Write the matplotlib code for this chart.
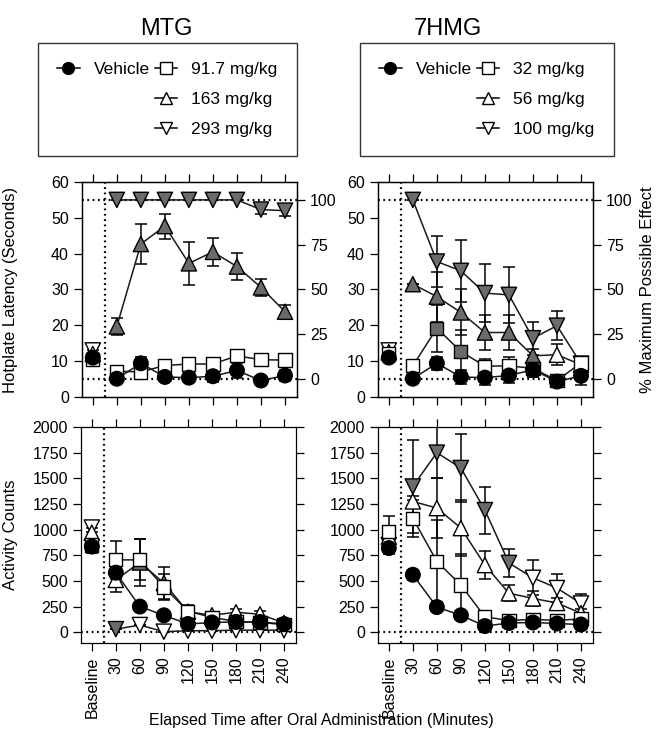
import numpy as np
import matplotlib
matplotlib.use('Agg')
from matplotlib import pyplot as plt
from matplotlib.lines import Line2D

plt.rcParams['font.family'] = ['Liberation Sans', 'DejaVu Sans']
plt.rcParams['axes.linewidth'] = 0.9

# DATA ========================================================================
time_labels = ['Baseline', '30', '60', '90', '120', '150', '180', '210', '240']

# MTG, hotplate latency (s)
mtg_hp_vehicle = [11.0, 5.1, 9.4, 5.6, 5.4, 5.8, 7.4, 4.6, 6.0]
mtg_hp_vehicle_err = [1.0, 0.6, 1.8, 1.2, 1.2, 1.5, 2.0, 1.2, 1.5]
mtg_hp_d1 = [10.5, 7.2, 7.0, 8.8, 9.2, 9.2, 11.5, 10.4, 10.3]
mtg_hp_d1_err = [1.0, 0.8, 1.0, 1.0, 1.0, 1.0, 1.6, 1.5, 1.5]
mtg_hp_d2 = [12.0, 19.7, 42.7, 47.7, 37.3, 40.5, 36.4, 30.6, 23.8]
mtg_hp_d2_err = [1.0, 2.3, 5.5, 3.5, 6.0, 4.0, 3.8, 2.4, 2.0]
mtg_hp_d3 = [13.0, 55.0, 55.0, 55.0, 55.0, 55.0, 55.0, 52.3, 52.0]
mtg_hp_d3_err = [1.0, 0, 0, 0, 0, 0, 0, 1.3, 1.4]
# gray filled = significant vs vehicle
mtg_hp_d1_sig = [0, 0, 0, 0, 0, 0, 0, 0, 0]
mtg_hp_d2_sig = [0, 1, 1, 1, 1, 1, 1, 1, 1]
mtg_hp_d3_sig = [0, 1, 1, 1, 1, 1, 1, 1, 1]

# 7HMG, hotplate latency (s)
hmg_hp_vehicle = [11.0, 5.1, 9.4, 5.6, 5.4, 6.0, 7.6, 4.3, 5.9]
hmg_hp_vehicle_err = [1.0, 0.5, 1.8, 2.0, 2.0, 2.0, 2.0, 1.0, 2.5]
hmg_hp_d1 = [12.0, 8.7, 19.2, 12.7, 8.6, 8.7, 8.0, 4.6, 9.5]
hmg_hp_d1_err = [1.0, 1.0, 6.6, 6.0, 2.0, 2.5, 2.5, 1.0, 1.0]
hmg_hp_d2 = [12.5, 31.5, 28.0, 23.6, 18.0, 18.0, 11.5, 11.8, 9.0]
hmg_hp_d2_err = [1.0, 0, 7.0, 6.4, 4.8, 4.8, 2.0, 3.0, 1.0]
hmg_hp_d3 = [13.0, 55.0, 37.8, 35.2, 29.0, 28.5, 16.4, 19.9, 9.3]
hmg_hp_d3_err = [1.0, 0, 7.0, 8.6, 8.1, 7.9, 4.6, 4.0, 1.0]
hmg_hp_d1_sig = [0, 0, 1, 1, 0, 0, 1, 1, 0]
hmg_hp_d2_sig = [0, 1, 1, 1, 1, 1, 1, 0, 0]
hmg_hp_d3_sig = [0, 1, 1, 1, 1, 1, 1, 1, 0]

# MTG, activity counts
mtg_ac_vehicle = [835, 580, 250, 165, 80, 95, 100, 100, 80]
mtg_ac_vehicle_err = [60, 60, 20, 15, 15, 10, 10, 10, 10]
mtg_ac_d1 = [850, 705, 705, 440, 205, 145, 105, 95, 75]
mtg_ac_d1_err = [60, 180, 200, 130, 60, 30, 20, 20, 20]
mtg_ac_d2 = [970, 510, 680, 480, 200, 165, 195, 175, 90]
mtg_ac_d2_err = [50, 115, 230, 160, 50, 30, 30, 30, 20]
mtg_ac_d3 = [1020, 30, 70, 5, 15, 15, 20, 20, 20]
mtg_ac_d3_err = [40, 0, 0, 0, 0, 0, 0, 0, 0]
mtg_ac_d1_sig = [0, 0, 0, 0, 0, 0, 0, 0, 0]
mtg_ac_d2_sig = [0, 0, 1, 1, 0, 0, 0, 0, 0]
mtg_ac_d3_sig = [0, 1, 0, 0, 0, 0, 0, 0, 0]

# 7HMG, activity counts
hmg_ac_vehicle = [820, 560, 245, 165, 60, 90, 95, 85, 75]
hmg_ac_vehicle_err = [60, 50, 30, 20, 15, 10, 10, 10, 10]
hmg_ac_d1 = [980, 1110, 690, 460, 150, 115, 125, 115, 130]
hmg_ac_d1_err = [150, 180, 400, 300, 30, 20, 20, 20, 20]
hmg_ac_d2 = [930, 1275, 1210, 1015, 655, 380, 330, 285, 185]
hmg_ac_d2_err = [60, 50, 290, 270, 135, 80, 70, 50, 40]
hmg_ac_d3 = [850, 1420, 1750, 1600, 1190, 675, 530, 430, 280]
hmg_ac_d3_err = [50, 455, 250, 330, 230, 140, 170, 140, 90]
hmg_ac_d1_sig = [0, 0, 0, 0, 0, 0, 0, 0, 0]
hmg_ac_d2_sig = [0, 0, 0, 0, 0, 0, 0, 0, 0]
hmg_ac_d3_sig = [0, 1, 1, 1, 1, 1, 0, 0, 0]

mtg_doses = ['91.7 mg/kg', '163 mg/kg', '293 mg/kg']
hmg_doses = ['32 mg/kg', '56 mg/kg', '100 mg/kg']

# =============================================================================
GRAY = '#6b6b6b'
LW = 1.1
DOT = (0, (0.8, 1.6))


def draw_series(ax, y, err, marker, ms, sig=None, vehicle=False):
    x = np.arange(len(y))
    ax.errorbar(x, y, yerr=err, fmt='none', ecolor='k', elinewidth=LW,
                capsize=4.5, capthick=LW, zorder=2)
    ax.plot(x[1:], y[1:], '-', color='#1a1a1a', lw=LW, zorder=2)
    if vehicle:
        faces = ['k'] * len(y)
    else:
        faces = [GRAY if s else 'white' for s in sig]
    ax.scatter(x, y, s=ms ** 2, marker=marker, facecolors=faces,
               edgecolors='k', linewidths=1.0, zorder=3)


def style_axes(ax):
    ax.set_xlim(-0.45, 8.5)
    ax.set_xticks(range(len(time_labels)))
    ax.tick_params(axis='both', direction='out', length=6, width=0.9,
                   labelsize=11.5)
    ax.tick_params(axis='x', top=True, bottom=True)
    ax.axvline(0.5, color='k', lw=1.6, ls=DOT, zorder=1)


def hotplate_panel(ax, series, sigs):
    (veh, veh_e), (d1, d1_e), (d2, d2_e), (d3, d3_e) = series
    style_axes(ax)
    ax.set_ylim(0, 60)
    ax.set_yticks(range(0, 61, 10))
    ax.axhline(5, color='k', lw=1.6, ls=DOT, zorder=1)
    ax.axhline(55, color='k', lw=1.6, ls=DOT, zorder=1)
    draw_series(ax, d3, d3_e, 'v', 11, sigs[2])
    draw_series(ax, d2, d2_e, '^', 11, sigs[1])
    draw_series(ax, d1, d1_e, 's', 9.5, sigs[0])
    draw_series(ax, veh, veh_e, 'o', 10.5, vehicle=True)
    ax.tick_params(axis='x', labelbottom=False)
    ax2 = ax.twinx()
    ax2.set_ylim((0 - 5) * 2, (60 - 5) * 2)
    ax2.set_yticks([0, 25, 50, 75, 100])
    ax2.tick_params(direction='out', length=6, width=0.9, labelsize=11.5)
    return ax2


def activity_panel(ax, series, sigs):
    (veh, veh_e), (d1, d1_e), (d2, d2_e), (d3, d3_e) = series
    style_axes(ax)
    ax.set_ylim(-105, 2000)
    ax.set_yticks(range(0, 2001, 250))
    ax.axhline(0, color='k', lw=1.6, ls=DOT, zorder=1)
    draw_series(ax, d3, d3_e, 'v', 11, sigs[2])
    draw_series(ax, d2, d2_e, '^', 11, sigs[1])
    draw_series(ax, d1, d1_e, 's', 9.5, sigs[0])
    draw_series(ax, veh, veh_e, 'o', 10.5, vehicle=True)
    ax.tick_params(axis='y', right=True, labelright=False)
    ax.set_xticklabels(time_labels, rotation=90)


fig = plt.figure(figsize=(6.59, 7.41), dpi=100)
W, H = 659, 741
tl = fig.add_axes([82 / W, 1 - 397 / H, 215 / W, 215 / H])
tr = fig.add_axes([378 / W, 1 - 397 / H, 215 / W, 215 / H])
bl = fig.add_axes([81 / W, 1 - 643 / H, 215 / W, 216 / H])
br = fig.add_axes([378 / W, 1 - 643 / H, 215 / W, 216 / H])

hotplate_panel(tl,
               [(mtg_hp_vehicle, mtg_hp_vehicle_err), (mtg_hp_d1, mtg_hp_d1_err),
                (mtg_hp_d2, mtg_hp_d2_err), (mtg_hp_d3, mtg_hp_d3_err)],
               [mtg_hp_d1_sig, mtg_hp_d2_sig, mtg_hp_d3_sig])
tr2 = hotplate_panel(tr,
                     [(hmg_hp_vehicle, hmg_hp_vehicle_err), (hmg_hp_d1, hmg_hp_d1_err),
                      (hmg_hp_d2, hmg_hp_d2_err), (hmg_hp_d3, hmg_hp_d3_err)],
                     [hmg_hp_d1_sig, hmg_hp_d2_sig, hmg_hp_d3_sig])
activity_panel(bl,
               [(mtg_ac_vehicle, mtg_ac_vehicle_err), (mtg_ac_d1, mtg_ac_d1_err),
                (mtg_ac_d2, mtg_ac_d2_err), (mtg_ac_d3, mtg_ac_d3_err)],
               [mtg_ac_d1_sig, mtg_ac_d2_sig, mtg_ac_d3_sig])
activity_panel(br,
               [(hmg_ac_vehicle, hmg_ac_vehicle_err), (hmg_ac_d1, hmg_ac_d1_err),
                (hmg_ac_d2, hmg_ac_d2_err), (hmg_ac_d3, hmg_ac_d3_err)],
               [hmg_ac_d1_sig, hmg_ac_d2_sig, hmg_ac_d3_sig])

tl.set_ylabel('Hotplate Latency (Seconds)', fontsize=12)
tl.yaxis.set_label_coords((18 - 82) / 215, 0.5)
bl.set_ylabel('Activity Counts', fontsize=12)
bl.yaxis.set_label_coords((18 - 81) / 215, 0.5)
tr2.set_ylabel('% Maximum Possible Effect', fontsize=12)
tr2.yaxis.set_label_coords((640 - 378) / 215, 0.5)
fig.text(321 / W, 1 - 720 / H,
         'Elapsed Time after Oral Administration (Minutes)',
         ha='center', va='center', fontsize=11.5)

fig.text(166 / W, 1 - 29 / H, 'MTG', ha='center', va='center', fontsize=17)
fig.text(448 / W, 1 - 29 / H, '7HMG', ha='center', va='center', fontsize=17)


# legends
def legend_handles(doses):
    blank = Line2D([], [], alpha=0)
    veh = Line2D([], [], color='k', lw=LW, marker='o', ms=8.5,
                 mfc='k', mec='k')
    sq = Line2D([], [], color='k', lw=LW, marker='s', ms=8,
                mfc='white', mec='k')
    up = Line2D([], [], color='k', lw=LW, marker='^', ms=9,
                mfc='white', mec='k')
    dn = Line2D([], [], color='k', lw=LW, marker='v', ms=9,
                mfc='white', mec='k')
    handles = [veh, blank, blank, sq, up, dn]
    labels = ['Vehicle', '', '', doses[0], doses[1], doses[2]]
    return handles, labels


for x0, doses in [(38, mtg_doses), (360, hmg_doses)]:
    h, l = legend_handles(doses)
    leg = fig.legend(h, l, loc='upper left', ncol=2,
                     bbox_to_anchor=(x0 / W, 1 - 43 / H),
                     borderaxespad=0.0,
                     frameon=True, fancybox=False, edgecolor='k',
                     fontsize=12.5, handlelength=1.3, handletextpad=0.8,
                     columnspacing=0.3, labelspacing=0.85, borderpad=1.1)
    leg.get_frame().set_linewidth(1.0)

fig.savefig('out.png', dpi=100)
